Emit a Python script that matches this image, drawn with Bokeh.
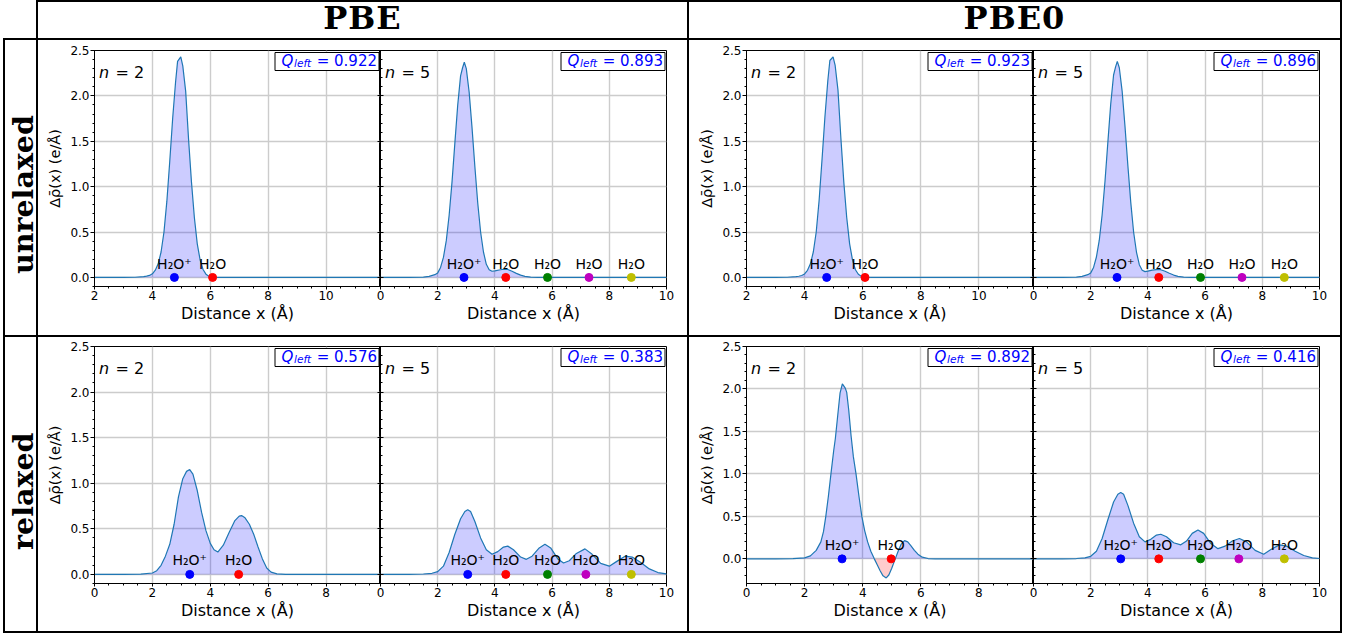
from bokeh.plotting import figure
from bokeh.models import (Range1d, Label, BoxAnnotation, SingleIntervalTicker, Div,
                          PrintfTickFormatter, CustomJSTickFormatter, Spacer)
from bokeh.layouts import row, column
from bokeh.embed import file_html
from bokeh.resources import INLINE
from bokeh.core.properties import value

# ---------------- data ----------------
columns_titles = ["PBE", "PBE0"]
row_titles = ["unrelaxed", "relaxed"]

# PBE, unrelaxed, n = 2
pbe_unrel_n2_x = [2.0, 3.0, 3.4, 3.7, 3.8, 3.9, 4.0, 4.1, 4.2, 4.3, 4.4, 4.5, 4.6, 4.7, 4.8, 4.87, 4.98, 5.05,
                  5.15, 5.25, 5.35, 5.45, 5.55, 5.65, 5.75, 5.85, 5.95, 6.1, 6.3, 7.0, 9.0, 11.88]
pbe_unrel_n2_y = [0.0, 0.0, 0.002, 0.008, 0.014, 0.022, 0.04, 0.08, 0.15, 0.28, 0.50, 0.84, 1.28, 1.75, 2.15,
                  2.38, 2.43, 2.33, 2.05, 1.52, 1.05, 0.66, 0.37, 0.19, 0.087, 0.036, 0.013, 0.004, 0.0, 0.0,
                  0.0, 0.0]
# PBE0, unrelaxed, n = 2
pbe0_unrel_n2_x = list(pbe_unrel_n2_x)
pbe0_unrel_n2_y = [0.0, 0.0, 0.002, 0.008, 0.013, 0.021, 0.038, 0.078, 0.15, 0.28, 0.50, 0.85, 1.30, 1.77, 2.17,
                   2.39, 2.43, 2.34, 2.06, 1.53, 1.05, 0.66, 0.37, 0.19, 0.085, 0.035, 0.013, 0.004, 0.0, 0.0,
                   0.0, 0.0]
# PBE, unrelaxed, n = 5
pbe_unrel_n5_x = [0.0, 1.0, 1.5, 1.7, 1.9, 2.0, 2.1, 2.2, 2.3, 2.4, 2.5, 2.6, 2.7, 2.8, 2.87, 2.93, 3.0, 3.1,
                  3.2, 3.3, 3.4, 3.5, 3.6, 3.7, 3.8, 3.9, 4.0, 4.15, 4.3, 4.45, 4.6, 4.75, 4.9, 5.05, 5.25,
                  5.5, 6.0, 10.0]
pbe_unrel_n5_y = [0.0, 0.0, 0.003, 0.012, 0.03, 0.05, 0.11, 0.22, 0.405, 0.685, 1.05, 1.48, 1.90, 2.22, 2.31,
                  2.37, 2.30, 2.04, 1.65, 1.22, 0.82, 0.50, 0.28, 0.145, 0.085, 0.068, 0.072, 0.082, 0.09,
                  0.087, 0.068, 0.045, 0.025, 0.012, 0.004, 0.001, 0.0, 0.0]
# PBE0, unrelaxed, n = 5
pbe0_unrel_n5_x = list(pbe_unrel_n5_x)
pbe0_unrel_n5_y = [0.0, 0.0, 0.003, 0.012, 0.03, 0.05, 0.11, 0.225, 0.41, 0.69, 1.06, 1.49, 1.91, 2.23, 2.32,
                   2.38, 2.31, 2.05, 1.66, 1.23, 0.83, 0.50, 0.28, 0.14, 0.08, 0.064, 0.07, 0.08, 0.086,
                   0.085, 0.068, 0.046, 0.026, 0.012, 0.004, 0.001, 0.0, 0.0]
# PBE, relaxed, n = 2
pbe_rel_n2_x = [0.0, 1.0, 1.6, 2.0, 2.15, 2.3, 2.45, 2.6, 2.75, 2.9, 3.05, 3.18, 3.29, 3.4, 3.55, 3.7, 3.85,
                4.0, 4.13, 4.26, 4.45, 4.65, 4.85, 5.0, 5.08, 5.2, 5.35, 5.5, 5.65, 5.8, 5.95, 6.1, 6.3, 6.6,
                7.0, 9.88]
pbe_rel_n2_y = [0.0, 0.0, 0.002, 0.015, 0.04, 0.10, 0.20, 0.33, 0.55, 0.85, 1.05, 1.13, 1.15, 1.10, 0.92,
                0.68, 0.48, 0.34, 0.27, 0.245, 0.32, 0.46, 0.59, 0.64, 0.645, 0.62, 0.55, 0.44, 0.30, 0.17,
                0.07, 0.025, 0.006, 0.0, 0.0, 0.0]
# PBE, relaxed, n = 5
pbe_rel_n5_x = [0.0, 1.0, 1.5, 1.8, 2.0, 2.2, 2.4, 2.6, 2.8, 2.95, 3.05, 3.15, 3.3, 3.5, 3.7, 3.9, 4.1, 4.3,
                4.45, 4.65, 4.9, 5.1, 5.3, 5.55, 5.75, 5.95, 6.2, 6.4, 6.6, 6.85, 7.15, 7.4, 7.7, 8.0, 8.25,
                8.55, 8.8, 9.1, 9.4, 9.7, 10.0]
pbe_rel_n5_y = [0.0, 0.0, 0.004, 0.012, 0.03, 0.09, 0.24, 0.44, 0.61, 0.69, 0.71, 0.69, 0.58, 0.40, 0.27,
                0.22, 0.25, 0.30, 0.31, 0.27, 0.19, 0.165, 0.20, 0.29, 0.33, 0.29, 0.17, 0.125, 0.15, 0.23,
                0.28, 0.22, 0.12, 0.09, 0.14, 0.20, 0.19, 0.13, 0.06, 0.02, 0.005]
# PBE0, relaxed, n = 2
pbe0_rel_n2_x = [0.0, 1.0, 1.6, 2.0, 2.2, 2.4, 2.56, 2.65, 2.73, 2.82, 2.91, 3.0, 3.06, 3.15, 3.22, 3.3, 3.4,
                 3.45, 3.52, 3.6, 3.68, 3.77, 3.87, 3.97, 4.07, 4.17, 4.28, 4.4, 4.5, 4.6, 4.7, 4.81, 4.9,
                 5.0, 5.12, 5.22, 5.32, 5.44, 5.55, 5.65, 5.78, 5.9, 6.05, 6.25, 6.5, 7.0, 9.91]
pbe0_rel_n2_y = [0.0, 0.0, 0.002, 0.012, 0.035, 0.10, 0.20, 0.32, 0.50, 0.74, 1.01, 1.27, 1.42, 1.72, 1.95,
                 2.06, 2.01, 1.96, 1.75, 1.45, 1.2, 1.0, 0.74, 0.50, 0.33, 0.20, 0.09, 0.0, -0.07, -0.14,
                 -0.20, -0.225, -0.19, -0.11, 0.0, 0.09, 0.17, 0.215, 0.20, 0.16, 0.10, 0.055, 0.02, 0.004,
                 0.0, 0.0, 0.0]
# PBE0, relaxed, n = 5
pbe0_rel_n5_x = [0.0, 1.0, 1.5, 1.8, 2.0, 2.2, 2.4, 2.6, 2.8, 2.95, 3.05, 3.15, 3.3, 3.5, 3.7, 3.9, 4.1, 4.3,
                 4.45, 4.65, 4.9, 5.15, 5.35, 5.55, 5.75, 5.95, 6.2, 6.45, 6.7, 6.95, 7.2, 7.45, 7.75, 8.05,
                 8.3, 8.6, 8.85, 9.15, 9.45, 9.75, 10.0]
pbe0_rel_n5_y = [0.0, 0.0, 0.004, 0.012, 0.03, 0.09, 0.24, 0.46, 0.67, 0.76, 0.78, 0.76, 0.63, 0.42, 0.26,
                 0.20, 0.23, 0.28, 0.29, 0.26, 0.19, 0.165, 0.21, 0.30, 0.34, 0.30, 0.18, 0.12, 0.15, 0.21,
                 0.24, 0.20, 0.10, 0.055, 0.11, 0.165, 0.15, 0.09, 0.04, 0.012, 0.004]

# molecule positions (Å) and labels
unrel_n2_atoms = [4.76, 6.08]
unrel_n5_atoms = [2.92, 4.38, 5.84, 7.29, 8.77]
rel_n2_atoms = [3.29, 4.98]
rel_n5_atoms = [3.05, 4.38, 5.84, 7.18, 8.77]
atom_labels = ["H\u2082O\u207a", "H\u2082O", "H\u2082O", "H\u2082O", "H\u2082O"]
atom_colors = ["#0000ff", "#ff0000", "#008000", "#bf00bf", "#bfbf00"]

# charge on the left
q_left = {"pbe_unrel_n2": 0.922, "pbe_unrel_n5": 0.893, "pbe0_unrel_n2": 0.923, "pbe0_unrel_n5": 0.896,
          "pbe_rel_n2": 0.576, "pbe_rel_n5": 0.383, "pbe0_rel_n2": 0.892, "pbe0_rel_n5": 0.416}

# axis limits
xlim_unrel_n2 = (2.0, 11.88)
xlim_rel_n2 = (0.0, 9.88)
xlim_n5 = (0.0, 10.0)
ylim_std = (-0.1, 2.5)
ylim_pbe0_rel = (-0.29, 2.5)

# ---------------- styling ----------------
FONT = "DejaVu Sans"
SERIF = "DejaVu Serif"
BASE_FIX = 0.35  # em shift observed for alphabetic text placement


def blk(w, h):
    return Spacer(width=w, height=h, styles={"background-color": "black"})


def wht(w, h):
    return Spacer(width=w, height=h)


def header_cell(w, h, txt):
    return Div(text=txt, width=w, height=h, margin=(0, 0, 0, 0),
               styles={"font-family": SERIF, "font-weight": "bold", "font-size": "32px",
                       "letter-spacing": "1px", "text-align": "center", "line-height": "32px",
                       "color": "black"})


def row_label_cell(w, h, txt):
    return Div(text=txt, width=w, height=h, margin=(0, 0, 0, 0),
               styles={"font-family": SERIF, "font-weight": "bold", "font-size": "28.5px",
                       "text-align": "center", "line-height": "31px", "color": "black",
                       "writing-mode": "vertical-rl", "white-space": "nowrap",
                       "transform": "rotate(180deg) translate(-3px, -7px)"})


def panel(xs, ys, atoms, q, n, xlim, ylim, fig_w, fig_h, b_left, b_right, b_top, b_bottom, first):
    fw = fig_w - b_left - b_right
    fh = fig_h - b_top - b_bottom
    p = figure(width=fig_w, height=fig_h, x_range=Range1d(*xlim), y_range=Range1d(*ylim),
               output_backend="svg", toolbar_location=None, title=None,
               min_border_left=b_left, min_border_right=b_right,
               min_border_top=b_top, min_border_bottom=b_bottom)
    p.outline_line_color = "black"
    p.outline_line_alpha = 1.0
    p.outline_line_width = 1
    if not first:
        p.margin = (0, 0, 0, -8)
        p.border_fill_alpha = 0.0

    xt = SingleIntervalTicker(interval=2, num_minor_ticks=4)
    yt = SingleIntervalTicker(interval=0.5, num_minor_ticks=5)
    p.xaxis.ticker = xt
    p.xgrid.ticker = xt
    p.yaxis.ticker = yt
    p.ygrid.ticker = yt
    p.grid.grid_line_color = "#cccccc"
    p.grid.grid_line_width = 1.4

    for ax in p.axis:
        ax.axis_line_color = "black"
        ax.major_tick_line_color = "black"
        ax.minor_tick_line_color = "black"
        ax.major_label_text_font = FONT
        ax.major_label_text_font_size = "12px"
        ax.major_label_text_color = "black"
        ax.axis_label_text_font = FONT
        ax.axis_label_text_font_style = "normal"
        ax.axis_label_text_color = "black"

    xa = p.xaxis[0]
    xa.major_tick_out = 3
    xa.major_tick_in = 0
    xa.minor_tick_out = 2
    xa.minor_tick_in = 0
    xa.major_label_standoff = 1
    xa.axis_label = "Distance x (\u00c5)"
    xa.axis_label_text_font_size = "16px"
    xa.axis_label_standoff = 1

    ya = p.yaxis[0]
    if first:
        ya.formatter = PrintfTickFormatter(format="%.1f")
        ya.major_tick_out = 4
        ya.major_tick_in = 0
        ya.minor_tick_out = 2
        ya.minor_tick_in = 0
        ya.major_label_standoff = 1
        ya.axis_label = "\u0394\u03c1\u0304(x) (e/\u00c5)"
        ya.axis_label_text_font_size = "14.5px"
        ya.axis_label_standoff = 4
    else:
        ya.formatter = CustomJSTickFormatter(code="return ''")
        ya.major_tick_out = 3
        ya.major_tick_in = 3
        ya.minor_tick_out = 0
        ya.minor_tick_in = 2
        ya.major_label_standoff = 0

    # filled density difference
    pos = [max(v, 0.0) for v in ys]
    neg = [min(v, 0.0) for v in ys]
    p.varea(x=xs, y1=[0.0] * len(xs), y2=pos, fill_color="blue", fill_alpha=0.2)
    if min(ys) < 0:
        p.varea(x=xs, y1=[0.0] * len(xs), y2=neg, fill_color="red", fill_alpha=0.2)
    p.line(xs, ys, line_color="#1f77b4", line_width=1.2)

    # molecules
    k = len(atoms)
    p.scatter(x=atoms, y=[0.0] * k, size=8, fill_color=atom_colors[:k], line_color=atom_colors[:k])
    p.text(x=atoms, y=[0.0] * k, text=atom_labels[:k], y_offset=-9 - BASE_FIX * 14, text_align="center",
           text_baseline="alphabetic", text_font=value(FONT), text_font_size="14px", text_color="black")

    # annotations positioned relative to the frame
    sx = (xlim[1] - xlim[0]) / fw
    sy = (ylim[1] - ylim[0]) / fh
    box_r = xlim[1] - 1.5 * sx
    box_l = box_r - 104 * sx
    box_t = ylim[1] - 2 * sy
    box_b = box_t - 18 * sy
    p.add_layout(BoxAnnotation(left=box_l, right=box_r, top=box_t, bottom=box_b,
                               fill_color="white", fill_alpha=1.0, line_color="black",
                               line_alpha=1.0, line_width=1))
    base = box_t - (14 - BASE_FIX * 15) * sy
    p.add_layout(Label(x=box_l, y=base, x_offset=6.5, text="Q", text_font=FONT, text_font_style="italic",
                       text_font_size="15px", text_color="blue", text_baseline="alphabetic"))
    p.add_layout(Label(x=box_l, y=base - (3 - BASE_FIX * 4.5) * sy, x_offset=19, text="left", text_font=FONT,
                       text_font_style="italic", text_font_size="10.5px", text_color="blue",
                       text_baseline="alphabetic"))
    p.add_layout(Label(x=box_r, y=base, x_offset=-2, text="= %.3f" % q, text_font=FONT,
                       text_font_size="15px", text_color="blue", text_align="right",
                       text_baseline="alphabetic"))

    nb = ylim[1] - (27.6 - BASE_FIX * 16) * sy
    p.add_layout(Label(x=xlim[0], y=nb, x_offset=4.5, text="n", text_font=FONT, text_font_style="italic",
                       text_font_size="16px", text_color="black", text_baseline="alphabetic"))
    p.add_layout(Label(x=xlim[0], y=nb, x_offset=21, text="= %d" % n, text_font=FONT,
                       text_font_size="16px", text_color="black", text_baseline="alphabetic"))
    return p


H1, T1, B1 = 295, 10, 49
H2, T2, B2 = 294, 9, 48

A = panel(pbe_unrel_n2_x, pbe_unrel_n2_y, unrel_n2_atoms, q_left["pbe_unrel_n2"], 2, xlim_unrel_n2, ylim_std,
          342, H1, 56, 0, T1, B1, True)
B = panel(pbe_unrel_n5_x, pbe_unrel_n5_y, unrel_n5_atoms, q_left["pbe_unrel_n5"], 5, xlim_n5, ylim_std,
          315, H1, 8, 21, T1, B1, False)
E = panel(pbe0_unrel_n2_x, pbe0_unrel_n2_y, unrel_n2_atoms, q_left["pbe0_unrel_n2"], 2, xlim_unrel_n2, ylim_std,
          344, H1, 57, 0, T1, B1, True)
F = panel(pbe0_unrel_n5_x, pbe0_unrel_n5_y, unrel_n5_atoms, q_left["pbe0_unrel_n5"], 5, xlim_n5, ylim_std,
          315, H1, 8, 21, T1, B1, False)

C = panel(pbe_rel_n2_x, pbe_rel_n2_y, rel_n2_atoms, q_left["pbe_rel_n2"], 2, xlim_rel_n2, ylim_std,
          342, H2, 56, 0, T2, B2, True)
D = panel(pbe_rel_n5_x, pbe_rel_n5_y, rel_n5_atoms, q_left["pbe_rel_n5"], 5, xlim_n5, ylim_std,
          315, H2, 8, 21, T2, B2, False)
G = panel(pbe0_rel_n2_x, pbe0_rel_n2_y, rel_n2_atoms, q_left["pbe0_rel_n2"], 2, xlim_rel_n2, ylim_pbe0_rel,
          344, H2, 57, 0, T2, B2, True)
Hh = panel(pbe0_rel_n5_x, pbe0_rel_n5_y, rel_n5_atoms, q_left["pbe0_rel_n5"], 5, xlim_n5, ylim_pbe0_rel,
           315, H2, 8, 21, T2, B2, False)

top_line = row(wht(36, 2), blk(1306, 2), wht(14, 2))
header = row(wht(36, 36), blk(2, 36),
             header_cell(649, 36, columns_titles[0]), blk(2, 36),
             header_cell(651, 36, columns_titles[1]), blk(2, 36), wht(14, 36))


def hline():
    return row(wht(3, 2), blk(1339, 2), wht(14, 2))


row1 = row(wht(3, H1), blk(2, H1), row_label_cell(31, H1, row_titles[0]),
           blk(2, H1), A, B, blk(2, H1), E, F, blk(2, H1), wht(14, H1))
row2 = row(wht(3, H2), blk(2, H2), row_label_cell(31, H2, row_titles[1]),
           blk(2, H2), C, D, blk(2, H2), G, Hh, blk(2, H2), wht(14, H2))

layout = column(top_line, header, hline(), row1, hline(), row2, hline(), wht(1356, 2))

with open("out.html", "w") as f:
    f.write(file_html(layout, INLINE))
